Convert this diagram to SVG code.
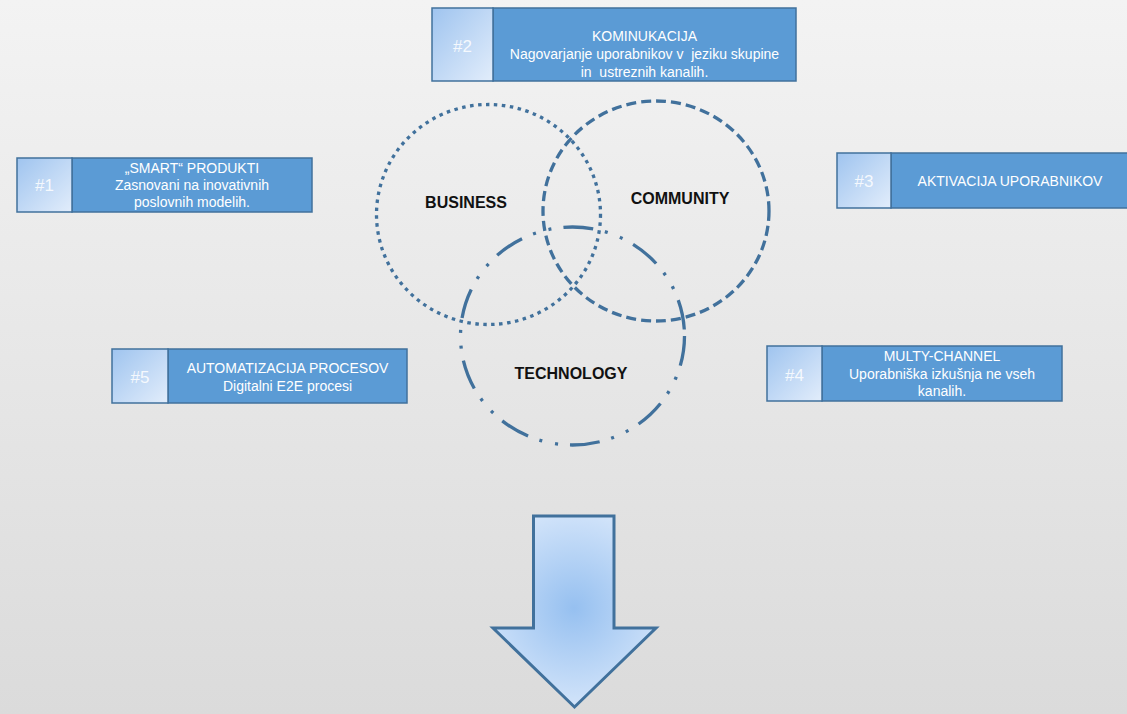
<svg xmlns="http://www.w3.org/2000/svg" width="1127" height="714" viewBox="0 0 1127 714">
<defs>
<linearGradient id="bg" x1="0" y1="0" x2="0" y2="1">
<stop offset="0" stop-color="#f3f3f3"/>
<stop offset="1" stop-color="#dbdbdb"/>
</linearGradient>
<linearGradient id="sq" x1="0" y1="0" x2="1" y2="1">
<stop offset="0" stop-color="#9fc4ef"/>
<stop offset="1" stop-color="#e2edfb"/>
</linearGradient>
<radialGradient id="arr" cx="574" cy="608" r="110" gradientUnits="userSpaceOnUse">
<stop offset="0" stop-color="#96c0f0"/>
<stop offset="1" stop-color="#d9e8fb"/>
</radialGradient>
</defs>
<style>
.main{fill:#5b9bd5;stroke:#41719c;stroke-width:1.5}
.sq{fill:url(#sq);stroke:#41719c;stroke-width:1.5}
.num{font-family:"Liberation Sans",Arial,sans-serif;font-size:17px;fill:#ffffff;fill-opacity:0.85;text-anchor:middle}
.txt{font-family:"Liberation Sans",Arial,sans-serif;font-size:14px;fill:#ffffff;text-anchor:middle}
.lbl{font-family:"Liberation Sans",Arial,sans-serif;font-size:16px;font-weight:bold;fill:#111111;text-anchor:middle}
.ring{fill:none;stroke:#41719c;stroke-width:3.3}
</style>
<rect x="0" y="0" width="1127" height="714" fill="url(#bg)"/>

<g id="node-business">
<ellipse class="ring" cx="488.5" cy="214.5" rx="112" ry="110" stroke-dasharray="3.5 4.5"/>
<text class="lbl" x="466" y="208">BUSINESS</text>
</g>
<g id="node-community">
<ellipse class="ring" cx="656" cy="211" rx="113" ry="110" stroke-dasharray="10 5"/>
<text class="lbl" x="680" y="204">COMMUNITY</text>
</g>
<g id="node-technology">
<ellipse class="ring" cx="572.5" cy="336" rx="112" ry="109" stroke-dasharray="30 12 3 13 3 12"/>
<text class="lbl" x="571" y="379">TECHNOLOGY</text>
</g>

<g id="node-1">
<rect class="main" x="72" y="158" width="240" height="54"/>
<rect class="sq" x="17" y="158" width="55" height="54"/>
<text class="num" x="44.5" y="191">#1</text>
<text class="txt" x="192" y="173">„SMART“ PRODUKTI</text>
<text class="txt" x="192" y="190">Zasnovani na inovativnih</text>
<text class="txt" x="192" y="207">poslovnih modelih.</text>
</g>

<g id="node-2">
<rect class="main" x="493" y="8" width="303" height="73"/>
<rect class="sq" x="432" y="8" width="61" height="73"/>
<text class="num" x="462.5" y="52">#2</text>
<text class="txt" x="644.5" y="41">KOMINUKACIJA</text>
<text class="txt" x="644.5" y="59" xml:space="preserve">Nagovarjanje uporabnikov v  jeziku skupine</text>
<text class="txt" x="644.5" y="77" xml:space="preserve">in  ustreznih kanalih.</text>
</g>

<g id="node-3">
<rect class="main" x="891" y="153" width="240" height="55"/>
<rect class="sq" x="837" y="153" width="54" height="55"/>
<text class="num" x="864" y="187">#3</text>
<text class="txt" x="1010" y="186">AKTIVACIJA UPORABNIKOV</text>
</g>

<g id="node-4">
<rect class="main" x="822" y="346" width="240" height="55"/>
<rect class="sq" x="767" y="346" width="55" height="55"/>
<text class="num" x="794.5" y="381">#4</text>
<text class="txt" x="942" y="361">MULTY-CHANNEL</text>
<text class="txt" x="942" y="379">Uporabniška izkušnja ne vseh</text>
<text class="txt" x="942" y="396">kanalih.</text>
</g>

<g id="node-5">
<rect class="main" x="168" y="349" width="239" height="54"/>
<rect class="sq" x="112" y="349" width="56" height="54"/>
<text class="num" x="140" y="383">#5</text>
<text class="txt" x="287.5" y="373">AUTOMATIZACIJA PROCESOV</text>
<text class="txt" x="287.5" y="391">Digitalni E2E procesi</text>
</g>

<g id="connectors">
<path id="arrow-down" d="M533.5,516 L614,516 L614,628 L656,628 L574.5,707 L493,628 L533.5,628 Z" fill="url(#arr)" stroke="#41719c" stroke-width="3" stroke-linejoin="miter"/>
</g>
</svg>
